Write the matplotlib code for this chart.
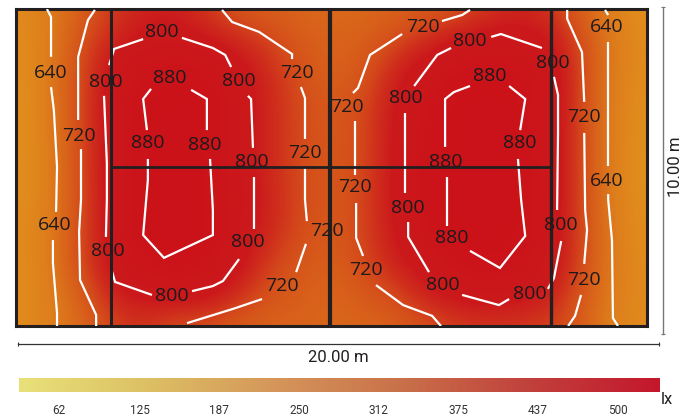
import numpy as np
import matplotlib
matplotlib.use("Agg")
import matplotlib.pyplot as plt
from matplotlib.colors import LinearSegmentedColormap, Normalize
from matplotlib.lines import Line2D

W, H = 690, 417
ROOM_W, ROOM_H = 20.0, 10.0

# Illuminance: rows y = 10..0 m, columns x = 0..20 m
lux = np.array([
 [600,640,685,740,770,780,745,705,690,680,675,675,685,695,710,745,770,745,680,625,590],
 [595,635,715,765,795,805,790,765,735,700,685,690,722,760,795,810,805,790,715,640,600],
 [590,640,720,800,850,875,860,810,760,715,685,705,770,815,860,880,865,815,720,635,600],
 [585,637,723,805,880,895,885,815,765,725,695,725,785,850,885,895,885,810,720,630,590],
 [585,635,720,805,875,890,882,815,765,725,700,725,790,860,890,895,880,810,720,630,590],
 [590,630,720,805,875,890,880,815,765,723,700,725,790,865,890,895,875,810,720,630,585],
 [590,630,718,805,880,893,882,820,770,725,700,730,790,865,895,898,882,810,720,630,590],
 [600,635,720,800,880,900,885,815,765,725,695,730,785,850,885,895,885,805,722,635,595],
 [595,635,722,800,855,880,860,805,740,705,690,725,775,805,860,880,850,800,722,635,600],
 [595,632,690,770,795,805,800,760,710,695,680,700,725,775,800,810,800,775,700,635,605],
 [600,630,670,730,750,715,715,695,685,685,680,680,690,715,735,745,740,735,690,625,600],
])

# Isolux line segments (x, y in metres)
isolines = [
 [(0.98,10.0),(1.11,9.75),(1.11,8.49)],
 [(1.11,7.54),(1.20,6.81),(1.30,5.02),(1.27,3.60)],
 [(1.17,2.71),(1.17,1.99),(1.30,0.41),(1.30,0)],
 [(2.50,9.97),(2.28,9.65),(1.97,8.49),(1.97,6.50)],
 [(2.06,5.58),(2.06,3.98),(2.00,2.97),(2.03,1.45),(2.54,0.35),(2.54,0)],
 [(4.03,9.05),(3.11,8.74),(2.95,8.23)],
 [(2.79,7.26),(2.88,5.14),(2.88,3.98),(2.85,2.81)],
 [(3.01,1.83),(3.14,1.39),(4.31,0.98)],
 [(5.58,1.10),(6.24,1.26),(6.56,1.42),(7.07,2.11)],
 [(7.54,3.06),(7.54,4.70)],
 [(7.51,5.62),(7.45,7.16),(7.35,7.26)],
 [(6.82,8.17),(6.63,8.55),(6.24,8.77),(5.26,9.09)],
 [(4.28,7.48),(4.03,7.16),(4.15,6.18)],
 [(4.18,5.27),(4.18,4.61),(4.03,2.87),(4.69,2.15),(6.24,2.87),(6.24,3.66),(6.15,5.27)],
 [(6.05,6.18),(6.05,7.16),(5.55,7.45)],
 [(6.53,9.97),(6.85,9.59),(7.70,9.28),(8.75,8.58),(8.75,8.42)],
 [(9.03,7.54),(9.16,7.19),(9.16,5.90)],
 [(9.16,4.98),(9.16,3.98),(9.22,3.31)],
 [(9.19,2.59),(8.88,1.70)],
 [(7.80,0.85),(6.88,0.54),(5.42,0.09)],
 [(14.39,9.97),(14.14,9.81),(13.50,9.62)],
 [(12.24,9.21),(11.22,8.55),(10.84,7.51),(10.68,7.35)],
 [(10.75,6.47),(10.75,4.76)],
 [(10.78,3.88),(10.78,2.78),(11.00,2.21)],
 [(11.41,1.29),(12.27,0.66),(13.19,0.32),(13.47,0)],
 [(12.62,7.57),(13.35,8.55),(13.79,8.77)],
 [(15.06,9.12),(15.37,9.21),(16.67,8.77)],
 [(17.05,7.86),(17.18,7.29),(17.18,6.09),(17.15,3.66)],
 [(17.28,2.68),(17.05,1.51),(16.86,1.17)],
 [(15.63,0.85),(15.31,0.66),(14.14,0.98)],
 [(13.09,1.70),(12.43,2.81),(12.43,3.28)],
 [(12.33,4.20),(12.33,6.72)],
 [(13.60,5.65),(13.60,7.16),(13.88,7.38),(14.39,7.57)],
 [(15.63,7.57),(16.14,7.16),(15.98,6.18)],
 [(15.91,5.27),(16.01,3.98),(16.14,2.84),(15.34,1.83),(14.39,2.37)],
 [(13.66,3.16),(13.66,4.70)],
 [(17.47,9.97),(17.47,9.69),(17.94,8.64),(18.01,7.07)],
 [(18.01,6.09),(18.04,3.66),(18.10,3.03),(18.01,1.96)],
 [(17.91,0.98),(17.72,0.32),(17.50,0)],
 [(18.67,9.97),(18.77,9.81)],
 [(18.77,8.96),(18.77,5.05)],
 [(18.77,4.16),(18.77,3.98),(18.89,2.71),(18.92,0.25),(19.08,0)],
]

# Isolux labels (x, y in metres, value)
label_x = [1.11,1.99,1.24,2.85,2.92,4.63,4.88,7.07,4.18,5.99,7.48,8.91,9.16,7.35,4.95,8.43,9.86,
           10.49,10.75,11.10,12.90,14.39,15.03,12.36,17.02,15.98,13.63,12.43,13.82,13.54,16.29,
           17.28,18.01,18.01,18.73,18.73]
label_y = [7.98,5.99,3.19,7.70,2.37,9.28,7.82,7.73,5.77,5.71,5.17,7.98,5.46,2.65,0.95,1.26,3.00,
           6.91,4.39,1.77,9.43,8.99,7.89,7.19,8.30,5.77,5.17,3.72,2.78,1.29,1.01,
           3.19,6.59,1.45,9.43,4.57]
label_v = [640,720,640,800,800,800,880,800,880,880,800,720,720,800,800,720,720,
           720,720,720,720,800,880,800,800,880,880,800,880,800,800,
           800,720,720,640,640]

# Room partition lines (metres)
walls_x = [3.02, 9.96, 16.97]
wall_w = [2.2, 3.0, 2.4]
beam_y = 5.01
beam_x = (3.02, 16.97)

# Colour scale
scale_ticks = [62, 125, 187, 250, 312, 375, 437, 500]
scale_min, scale_max = 30.6, 533.0

heat_stops = [(585, "#e2921c"), (640, "#de7d1c"), (690, "#d8601a"), (725, "#d44a1b"),
              (755, "#cf2e1c"), (785, "#cc1a1c"), (900, "#cb1119")]
bar_stops = ["#e8e17a", "#ddc064", "#d5965a", "#c9704a", "#c1403c", "#c4172c"]

plt.rcParams["font.family"] = ["Open Sans", "DejaVu Sans"]
DARK = "#231f20"

fig = plt.figure(figsize=(W / 100, H / 100), dpi=100, facecolor="white")

def px_axes(x0, y0, x1, y1):
    return fig.add_axes([x0 / W, 1 - y1 / H, (x1 - x0) / W, (y1 - y0) / H])

# Heat map
ax = px_axes(16, 9, 647, 326)
vmin, vmax = heat_stops[0][0], heat_stops[-1][0]
cmap = LinearSegmentedColormap.from_list(
    "heat", [((v - vmin) / (vmax - vmin), c) for v, c in heat_stops])
ax.imshow(lux, extent=(-0.5, 20.5, -0.5, 10.5), origin="upper", cmap=cmap,
          norm=Normalize(vmin, vmax), interpolation="bicubic", aspect="auto")
ax.set_xlim(0, ROOM_W)
ax.set_ylim(0, ROOM_H)
ax.set_xticks([])
ax.set_yticks([])
for s in ax.spines.values():
    s.set_linewidth(2.2)
    s.set_color(DARK)

for seg in isolines:
    xs, ys = zip(*seg)
    ax.plot(xs, ys, color="white", lw=1.6, solid_joinstyle="miter", solid_capstyle="butt", zorder=3)

for x, lw in zip(walls_x, wall_w):
    ax.plot([x, x], [0, ROOM_H], color=DARK, lw=lw, zorder=4, solid_capstyle="butt")
ax.plot(beam_x, [beam_y, beam_y], color=DARK, lw=2.0, zorder=4, solid_capstyle="butt")

for x, y, v in zip(label_x, label_y, label_v):
    ax.text(x, y, str(v), ha="center", va="center", fontsize=14, color="#1d1a1b", zorder=5)

# Dimension lines
fig.add_artist(Line2D([18 / W, 659 / W], [1 - 344 / H] * 2, color="#333333", lw=0.9,
                      marker="|", markersize=3, markeredgewidth=0.8))
fig.add_artist(Line2D([663 / W] * 2, [1 - 7 / H, 1 - 334 / H], color="#777777", lw=1.0,
                      marker="_", markersize=3, markeredgewidth=0.8))
fig.text(338 / W, 1 - 357 / H, "20.00 m", ha="center", va="center", fontsize=12,
         color=DARK, family="Roboto")
fig.text(675 / W, 1 - 167 / H, "10.00 m", ha="center", va="center", rotation=90,
         fontsize=12, color=DARK, family="Roboto")

# Colour bar
cax = px_axes(19, 378, 660, 392)
bar_cmap = LinearSegmentedColormap.from_list("bar", bar_stops)
cax.imshow(np.linspace(0, 1, 256)[None, :], extent=(scale_min, scale_max, 0, 1), cmap=bar_cmap,
           aspect="auto")
cax.set_yticks([])
cax.set_xticks(scale_ticks)
cax.set_xticklabels([str(t) for t in scale_ticks], family="Roboto", fontsize=8.5, color="#333333")
cax.tick_params(axis="x", length=0, pad=8.5)
for s in cax.spines.values():
    s.set_visible(False)
fig.text(667 / W, 1 - 399 / H, "lx", ha="center", va="center", fontsize=12, color=DARK,
         family="Roboto")

fig.savefig("out.png", dpi=100)
